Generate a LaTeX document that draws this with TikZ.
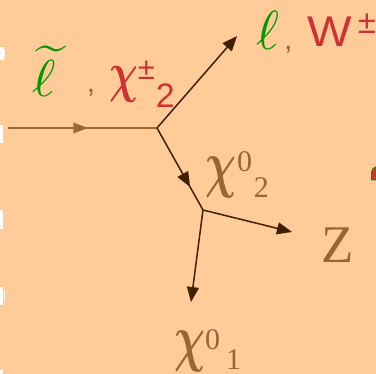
\documentclass[tikz,border=0pt]{standalone}
\usepackage{graphicx}
\usepackage{fontspec}
\setmainfont{Liberation Serif}
\newfontfamily\sansf{Liberation Sans}
\usetikzlibrary{arrows.meta,decorations.markings}
\definecolor{bg}{HTML}{FFCC99}
\definecolor{tbrown}{HTML}{996633}
\definecolor{lbrown}{HTML}{9C6833}
\definecolor{dline}{HTML}{3F2000}
\definecolor{tgreen}{HTML}{009900}
\definecolor{tred}{HTML}{CC3333}
\tikzset{
  lbl/.style={inner sep=0pt,outer sep=0pt,anchor=base west},
  tip/.style={-{Triangle[length=15pt,width=12pt]}},
  dk/.style={draw=dline,line width=1.5pt},
  midarrow/.style={postaction=decorate,decoration={markings,
      mark=at position #1 with {\arrow{Triangle[length=15pt,width=12pt]}}}},
}
\begin{document}
\begin{tikzpicture}[x=1pt,y=-1pt]
\fill[bg] (0,0) rectangle (376,374);
\useasboundingbox (0,0) rectangle (376,374);
% partial marks at edges
\fill[white] (0,47) rectangle (3.5,60);
\fill[white] (0,50) rectangle (5,57);
\fill[white!96!bg] (0,125) rectangle (3,143);
\fill[white!96!bg] (0,210) rectangle (3,229);
\fill[white!96!bg] (0,287) rectangle (3,305);
\fill[white] (4,291) rectangle (5,300);
\fill[white!90!bg] (0,370) rectangle (3,374);
\fill[tred,draw=tgreen,line width=1pt] (371.5,180) -- (371.5,173) .. controls (372,169) and (374,167) .. (376,167) -- (376,180) -- cycle;
% vertices
\coordinate (in) at (8,128);
\coordinate (v1) at (157,128);
\coordinate (t1) at (237,36);
\coordinate (v2) at (203,210);
\coordinate (tz) at (292,232);
\coordinate (t0) at (191,302);
% connectors
\draw[draw=lbrown,line width=2.4pt,postaction=decorate,decoration={markings,
  mark=at position 0.54 with {\arrow[lbrown]{Triangle[length=15pt,width=10pt]}}}] (in) -- (v1);
\draw[dk,tip] (v1) -- (t1);
\draw[dk,midarrow=0.72] (v1) -- (v2);
\draw[dk,tip] (v2) -- (tz);
\draw[dk,tip] (v2) -- (t0);
% labels
\node[lbl,text=tgreen] (sl) at (33,97) {\scalebox{5.6}[5.2]{$\widetilde{\ell}$}};
\node[lbl,text=tbrown,font=\sansf\fontsize{30}{36}\selectfont] (c1) at (87,93) {,};
\node[lbl,text=tred] (chi2) at (110,92) {\scalebox{4.0}[5.6]{\boldmath$\chi$}};
\node[lbl,text=tred,font=\sansf\fontsize{31}{36}\selectfont] (pm1) at (138,80) {±};
\node[lbl,text=tred,font=\sansf\fontsize{34}{40}\selectfont] (s2) at (156,108) {2};
\node[lbl,text=tgreen] (ell) at (257,50) {\scalebox{5.5}{$\ell$}};
\node[lbl,text=tbrown,font=\sansf\fontsize{30}{36}\selectfont] (c2) at (284,50) {,};
\node[lbl,text=tred,font=\sansf\fontsize{43}{50}\selectfont] (W) at (307,47) {\scalebox{1.1}[1]{W}};
\node[lbl,text=tred,font=\sansf\fontsize{33}{40}\selectfont] (pm2) at (358,34) {±};
\node[lbl,text=tbrown] (chi02) at (205,186) {\scalebox{4.3}[6.4]{\boldmath$\chi$}};
\node[lbl,text=tbrown,font=\fontsize{30}{36}\selectfont] (sup02) at (237,172) {0};
\node[lbl,text=tbrown,font=\fontsize{30}{36}\selectfont] (sub02) at (254,198) {2};
\node[lbl,text=tbrown,font=\fontsize{53}{60}\selectfont] (Z) at (321,263) {Z};
\node[lbl,text=tbrown] (chi01) at (175,360) {\scalebox{4.3}[6.4]{\boldmath$\chi$}};
\node[lbl,text=tbrown,font=\fontsize{30}{36}\selectfont] (sup01) at (205,350) {0};
\node[lbl,text=tbrown,font=\fontsize{30}{36}\selectfont] (sub01) at (226,370) {1};
\end{tikzpicture}
\end{document}
